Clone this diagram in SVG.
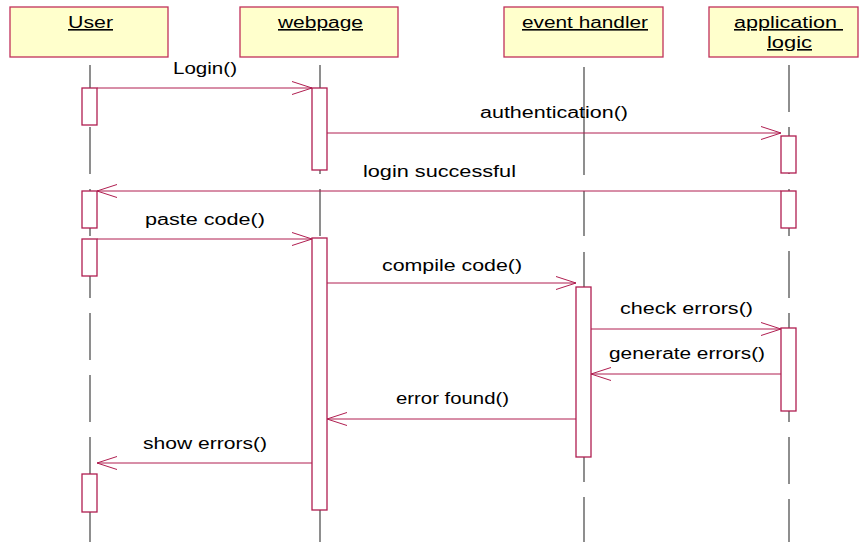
<svg xmlns="http://www.w3.org/2000/svg" width="859" height="542" viewBox="0 0 859 542">
<style>
.obj{fill:#FFFFCC;stroke:#C0305A;stroke-width:1.3}
.ttl{font-family:"Liberation Sans",Arial,sans-serif;font-size:16px;fill:#000;text-decoration:underline}
.life{stroke:#444;stroke-width:1.2;fill:none}
.dash{stroke-dasharray:47 15}
.act{fill:#fff;stroke:#B01E50;stroke-width:1.3}
.msg{stroke:#B01E50;stroke-width:1;fill:none;marker-end:url(#open)}
.lbl{font-family:"Liberation Sans",Arial,sans-serif;font-size:16px;fill:#000}
</style>
<defs>
<marker id="open" viewBox="-22 -8 24 16" refX="0" refY="0" markerWidth="24" markerHeight="16" markerUnits="userSpaceOnUse" orient="auto">
<path d="M-20,-6.5 L0,0 L-20,6.5" fill="none" stroke="#B01E50" stroke-width="1"/>
</marker>
</defs>
<rect width="859" height="542" fill="#fff"/>
<g id="user">
<rect class="obj" x="10" y="7" width="158" height="50"/>
<text class="ttl" x="68" y="28" textLength="45" lengthAdjust="spacingAndGlyphs">User</text>
<line class="life dash" x1="90" y1="65" x2="90" y2="542"/>
<rect class="act" x="82" y="88" width="15" height="37"/>
<rect class="act" x="82" y="191" width="15" height="37"/>
<rect class="act" x="82" y="239" width="15" height="37"/>
<rect class="act" x="82" y="474" width="15" height="38"/>
</g>
<g id="webpage">
<rect class="obj" x="240" y="7" width="158" height="50"/>
<text class="ttl" x="278" y="28" textLength="85" lengthAdjust="spacingAndGlyphs">webpage</text>
<line class="life dash" x1="320" y1="65" x2="320" y2="542"/>
<rect class="act" x="312" y="88" width="15" height="82"/>
<rect class="act" x="312" y="238" width="15" height="272"/>
</g>
<g id="event-handler">
<rect class="obj" x="504" y="7" width="159" height="50"/>
<text class="ttl" x="522" y="28" textLength="126" lengthAdjust="spacingAndGlyphs">event handler</text>
<line class="life" x1="584" y1="67" x2="584" y2="175"/>
<line class="life" x1="584" y1="191" x2="584" y2="236"/>
<line class="life" x1="584" y1="252" x2="584" y2="287"/>
<line class="life" x1="584" y1="457" x2="584" y2="482"/>
<line class="life" x1="584" y1="497" x2="584" y2="542"/>
<rect class="act" x="576" y="287" width="15" height="170"/>
</g>
<g id="application-logic">
<rect class="obj" x="709" y="7" width="149" height="50"/>
<text class="ttl" x="734" y="28" textLength="109" lengthAdjust="spacingAndGlyphs">application&#160;</text>
<text class="ttl" x="767" y="48" textLength="45" lengthAdjust="spacingAndGlyphs">logic</text>
<line class="life dash" x1="789" y1="65" x2="789" y2="542"/>
<rect class="act" x="781" y="136" width="15" height="37"/>
<rect class="act" x="781" y="191" width="15" height="37"/>
<rect class="act" x="781" y="328" width="15" height="83"/>
</g>
<g id="connectors">
<path class="msg" d="M97,88 H312"/>
<text class="lbl" x="173" y="74" textLength="64" lengthAdjust="spacingAndGlyphs">Login()</text>
<path class="msg" d="M327,133 H781"/>
<text class="lbl" x="480" y="118" textLength="148" lengthAdjust="spacingAndGlyphs">authentication()</text>
<path class="msg" d="M781,191 H97"/>
<text class="lbl" x="363" y="177" textLength="153" lengthAdjust="spacingAndGlyphs">login successful</text>
<path class="msg" d="M97,239 H312"/>
<text class="lbl" x="145" y="225" textLength="120" lengthAdjust="spacingAndGlyphs">paste code()</text>
<path class="msg" d="M327,283 H576"/>
<text class="lbl" x="382" y="271" textLength="140" lengthAdjust="spacingAndGlyphs">compile code()</text>
<path class="msg" d="M591,329 H781"/>
<text class="lbl" x="620" y="314" textLength="133" lengthAdjust="spacingAndGlyphs">check errors()</text>
<path class="msg" d="M781,374 H591"/>
<text class="lbl" x="609" y="359" textLength="156" lengthAdjust="spacingAndGlyphs">generate errors()</text>
<path class="msg" d="M576,419 H327"/>
<text class="lbl" x="396" y="404" textLength="113" lengthAdjust="spacingAndGlyphs">error found()</text>
<path class="msg" d="M312,463 H97"/>
<text class="lbl" x="143" y="449" textLength="124" lengthAdjust="spacingAndGlyphs">show errors()</text>
</g>
</svg>
